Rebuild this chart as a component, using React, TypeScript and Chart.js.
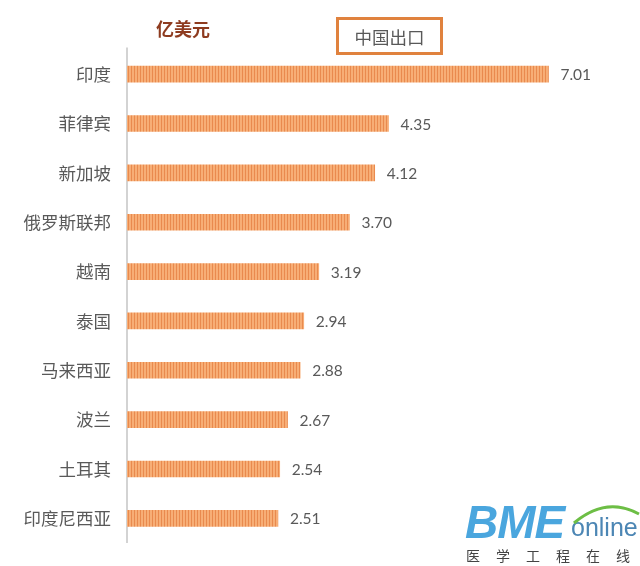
import React, { useEffect, useRef } from "react";
import { Chart, registerables } from "chart.js";

Chart.register(...registerables);

const categories = ["印度", "菲律宾", "新加坡", "俄罗斯联邦", "越南", "泰国", "马来西亚", "波兰", "土耳其", "印度尼西亚"];
const exportValues = [7.01, 4.35, 4.12, 3.7, 3.19, 2.94, 2.88, 2.67, 2.54, 2.51];
const unitLabel = "亿美元";
const legendLabel = "中国出口";

function makeStripe(): CanvasPattern | string {
  const c = document.createElement("canvas");
  c.width = 3;
  c.height = 4;
  const g = c.getContext("2d");
  if (!g) return "#F2A163";
  g.fillStyle = "#F7AE76";
  g.fillRect(0, 0, 3, 4);
  g.fillStyle = "#E98A4E";
  g.fillRect(2, 0, 1, 4);
  return g.createPattern(c, "repeat") || "#F2A163";
}

const axisLine = {
  id: "axisLine",
  beforeDatasetsDraw(chart: any) {
    const { ctx, chartArea } = chart;
    ctx.save();
    ctx.strokeStyle = "#D3D3D3";
    ctx.lineWidth = 2;
    ctx.beginPath();
    ctx.moveTo(chartArea.left, chartArea.top - 2);
    ctx.lineTo(chartArea.left, chartArea.bottom);
    ctx.stroke();
    ctx.restore();
  },
};

const valueLabels = {
  id: "valueLabels",
  afterDatasetsDraw(chart: any) {
    const ctx = chart.ctx;
    const meta = chart.getDatasetMeta(0);
    ctx.save();
    ctx.font = "15.5px Lato, 'Open Sans', sans-serif";
    ctx.fillStyle = "#595959";
    ctx.textAlign = "left";
    ctx.textBaseline = "middle";
    meta.data.forEach((bar: any, i: number) => {
      ctx.fillText(exportValues[i].toFixed(2), bar.x + 12, bar.y + 1);
    });
    ctx.restore();
  },
};

export default function App() {
  const ref = useRef<HTMLCanvasElement>(null);
  useEffect(() => {
    if (!ref.current) return;
    const chart = new Chart(ref.current, {
      type: "bar",
      data: {
        labels: categories,
        datasets: [
          {
            data: exportValues,
            backgroundColor: makeStripe() as any,
            barThickness: 16,
            borderWidth: 0,
          },
        ],
      },
      options: {
        indexAxis: "y",
        animation: false,
        responsive: false,
        maintainAspectRatio: false,
        layout: { padding: { top: 49.5, bottom: 23, left: 0, right: 32 } },
        plugins: { legend: { display: false }, tooltip: { enabled: false } },
        scales: {
          x: { display: false, min: 0, max: 8 },
          y: {
            afterFit(scale: any) {
              scale.width = 127;
            },
            grid: { display: false },
            border: { display: false },
            ticks: {
              padding: 8,
              color: "#595959",
              font: { size: 17.5, family: "'Noto Sans CJK SC', sans-serif" },
            },
          },
        },
      },
      plugins: [axisLine, valueLabels],
    });
    return () => chart.destroy();
  }, []);

  return (
    <div style={{ position: "absolute", left: 0, top: 0, width: 640, height: 566, background: "#fff", overflow: "hidden" }}>
      <canvas ref={ref} width={640} height={566} style={{ position: "absolute", left: 0, top: 0 }} />
      <div
        style={{
          position: "absolute",
          left: 156,
          top: 16,
          fontFamily: "'Noto Sans CJK SC', sans-serif",
          fontWeight: 700,
          fontSize: 18,
          lineHeight: "24px",
          color: "#8E3B1F",
        }}
      >
        {unitLabel}
      </div>
      <div
        style={{
          position: "absolute",
          left: 336,
          top: 17,
          width: 107,
          height: 38,
          boxSizing: "border-box",
          border: "3.5px solid #E0823E",
          fontFamily: "'Noto Sans CJK SC', sans-serif",
          fontSize: 17.5,
          color: "#595959",
          display: "flex",
          alignItems: "center",
          justifyContent: "center",
        }}
      >
        {legendLabel}
      </div>
      <div
        style={{
          position: "absolute",
          left: 465,
          top: 497,
          fontFamily: "'Liberation Sans', Arial, sans-serif",
          fontWeight: 700,
          fontStyle: "italic",
          fontSize: 46,
          lineHeight: "50px",
          color: "#4AA6DE",
          letterSpacing: -1,
        }}
      >
        BME
      </div>
      <div
        style={{
          position: "absolute",
          left: 571,
          top: 512,
          fontFamily: "'Liberation Sans', Arial, sans-serif",
          fontSize: 25,
          lineHeight: "30px",
          color: "#4C86B4",
        }}
      >
        online
      </div>
      <svg style={{ position: "absolute", left: 0, top: 0 }} width={640} height={566}>
        <path d="M574 523 Q 606 496 639 514" stroke="#6DBE45" strokeWidth={3} fill="none" />
      </svg>
      <div
        style={{
          position: "absolute",
          left: 466,
          top: 545,
          fontFamily: "'Noto Sans CJK SC', sans-serif",
          fontSize: 14,
          lineHeight: "20px",
          color: "#444",
          letterSpacing: 16,
          whiteSpace: "nowrap",
        }}
      >
        医学工程在线
      </div>
    </div>
  );
}
